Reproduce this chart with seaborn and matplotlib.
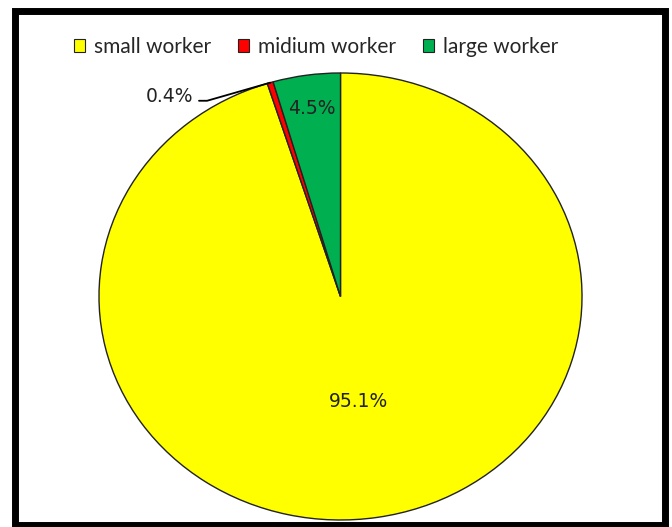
import numpy as np
import matplotlib
matplotlib.use("Agg")
import matplotlib.pyplot as plt
import seaborn as sns
from matplotlib.patches import Rectangle, Patch

# data
categories = ["small worker", "midium worker", "large worker"]
shares = [95.1, 0.4, 4.5]
colors = ["#FFFF00", "#FF0000", "#00B050"]

sns.set_theme(style="white")
plt.rcParams['font.family'] = ['DejaVu Sans']

fig = plt.figure(figsize=(6.72, 5.27), dpi=100)
ax = fig.add_axes([0.1473, 0.0133, 0.7188, 0.8482])

wedges, texts, autotexts = ax.pie(
    shares, colors=colors, startangle=90, counterclock=False,
    autopct="%.1f%%", wedgeprops=dict(edgecolor="#222222", linewidth=1.0),
    textprops=dict(fontsize=13.5, color="#222222"),
)
ax.set_aspect("auto")
ax.set_xlim(-1, 1)
ax.set_ylim(-1, 1)

# move percentage labels
dists = [0.477, None, 0.85]
for w, t, d in zip(wedges, autotexts, dists):
    mid = np.deg2rad((w.theta1 + w.theta2) / 2)
    if d is None:
        t.set_visible(False)
        # outside label with leader line
        edge = (np.cos(mid), np.sin(mid))
        ax.annotate(t.get_text(), xy=edge, xytext=(-0.611, 0.897),
                    ha="right", va="center", fontsize=13.5, color="#222222",
                    arrowprops=dict(arrowstyle="-", color="black", lw=1.3,
                                    relpos=(1.0, 0.25), shrinkA=2, shrinkB=0,
                                    connectionstyle="angle,angleA=0,angleB=16,rad=0"))
    else:
        t.set_position((d * np.cos(mid), d * np.sin(mid)))

handles = [Patch(facecolor=c, edgecolor="#222222", linewidth=0.8) for c in colors]
fig.legend(handles, categories, loc="center", bbox_to_anchor=(316 / 672, 1 - 47 / 527),
           ncol=3, frameon=False, prop=dict(family="Lato", size=15),
           handlelength=0.55, handleheight=0.55, handletextpad=0.4, columnspacing=1.3)

# frame around the chart
fig.patches.append(Rectangle((0.0216, 0.004), 0.9684, 0.975, transform=fig.transFigure,
                             fill=False, edgecolor="black", linewidth=5.0, zorder=10))

fig.savefig("out.png", dpi=100)
